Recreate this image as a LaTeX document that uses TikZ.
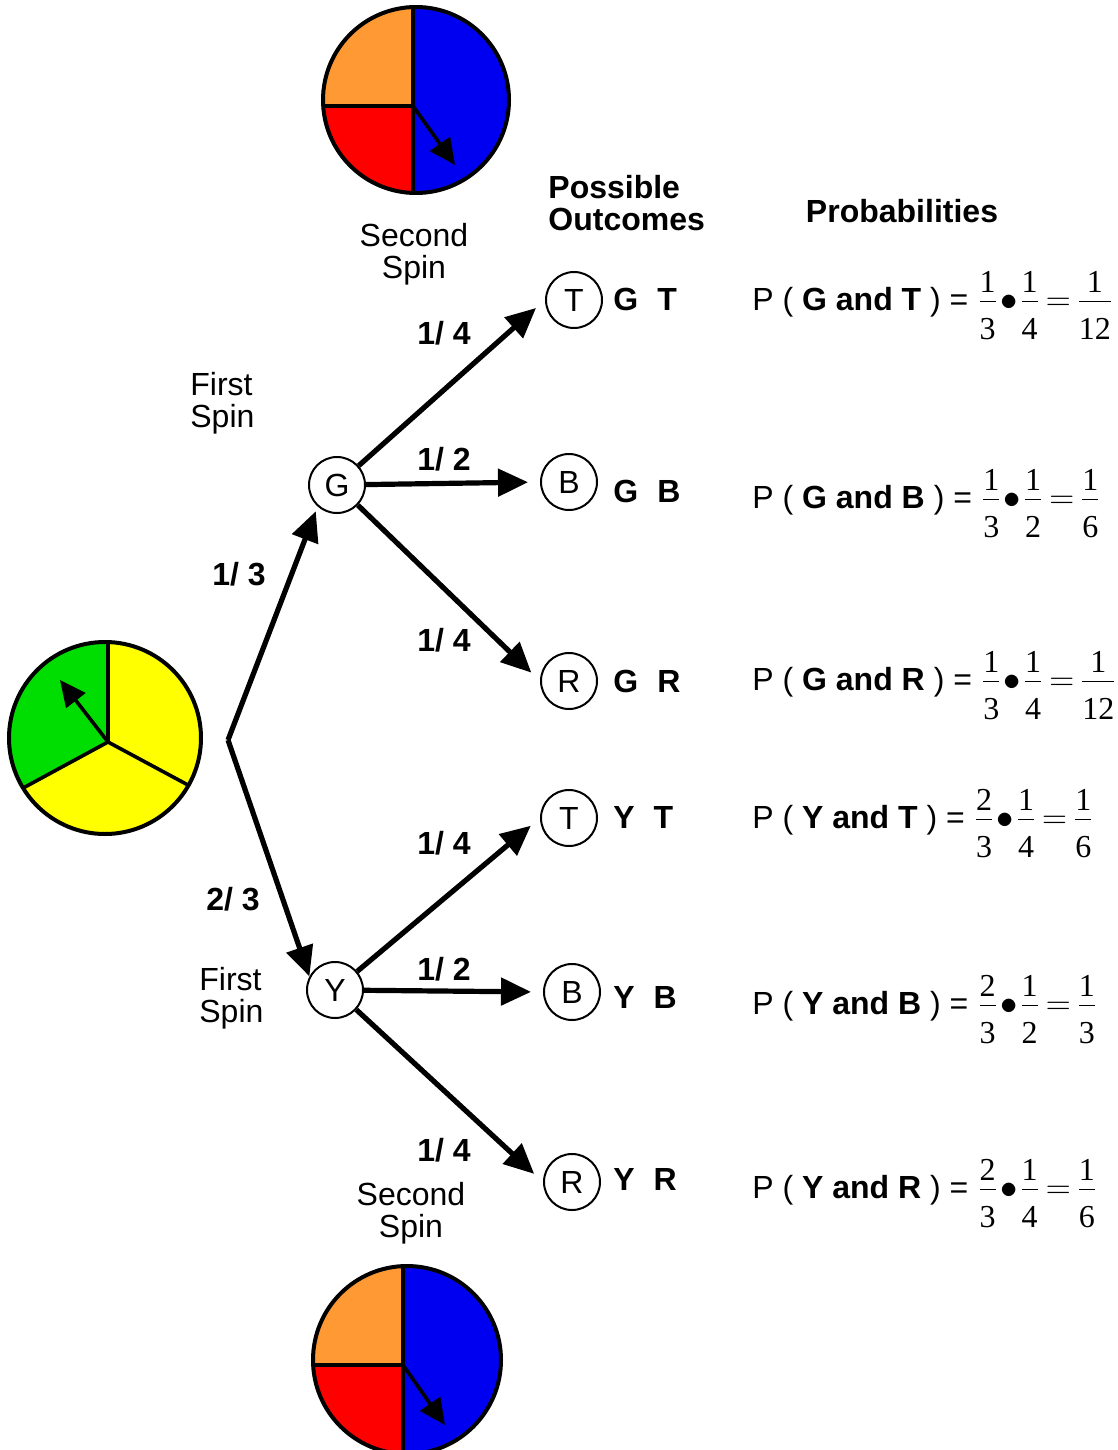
\documentclass[tikz,border=0pt]{standalone}
\usepackage{amsmath}
\usepackage{fontspec}
\setmainfont{Liberation Sans}
\newfontfamily\fracfont{Liberation Serif}
\usetikzlibrary{positioning,arrows.meta}
\definecolor{spinorange}{HTML}{FF9933}
\definecolor{spinblue}{HTML}{0000F0}
\definecolor{spinred}{HTML}{FF0000}
\definecolor{spingreen}{HTML}{00DD00}
\definecolor{spinyellow}{HTML}{FFFF00}
\newcommand\pfrac[2]{\genfrac{}{}{0.8pt}{0}{\raisebox{-3pt}{\fracfont #1}}{\raisebox{-3pt}{\fracfont #2}}}
\newcommand\peq{\mskip-2mu\mathrel{=}\mskip-2mu}
\newcommand\pdot{\mskip1mu{\bullet}\mskip1mu}

\begin{document}
\begin{tikzpicture}[x=0.5pt,y=-0.5pt,
  every node/.style={font=\fontsize{16}{16}\selectfont, inner sep=0pt},
  branch/.style={line width=2.6pt, -{Triangle[length=15pt,width=13.5pt]}, shorten >=6pt},
  pick/.style={draw, circle, line width=1pt, minimum size=28pt, inner sep=0pt},
  prob/.style={font=\fontsize{16}{16}\selectfont\bfseries},
  pointer/.style={line width=1.8pt, -{Triangle[length=13pt,width=12pt]}},
  rim/.style={line width=2pt},
  spoke/.style={line width=1.8pt}]
\useasboundingbox (0,0) rectangle (1118,1450);
\fill[spinblue] (416,100) circle[radius=93];
\begin{scope}
\clip (416,100) circle[radius=93];
\fill[spinorange] (300,0) rectangle (413,106);
\fill[spinred] (300,106) rectangle (413,200);
\draw[spoke] (413,0) -- (413,200) (300,106) -- (413,106);
\end{scope}
\draw[rim] (416,100) circle[radius=93];
\draw[pointer] (413,106) -- (455,165);
\fill[spinyellow] (105,738) circle[radius=96];
\begin{scope}
\clip (105,738) circle[radius=96];
\fill[spingreen] (108,742) -- (108,600) -- (-60,600) -- (-58,832) -- cycle;
\draw[spoke] (108,742) -- (108,600) (108,742) -- (-58,832) (108,742) -- (268,828);
\end{scope}
\draw[rim] (105,738) circle[radius=96];
\draw[pointer] (108,742) -- (60,680);
\fill[spinblue] (407,1360) circle[radius=94];
\begin{scope}
\clip (407,1360) circle[radius=94];
\fill[spinorange] (300,1250) rectangle (403,1365);
\fill[spinred] (300,1365) rectangle (403,1470);
\draw[spoke] (403,1250) -- (403,1470) (300,1365) -- (403,1365);
\end{scope}
\draw[rim] (407,1360) circle[radius=94];
\draw[pointer] (403,1365) -- (445,1425);
\node[align=center] (secondtop) at (414,254) {Second\\Spin};
\node[align=center] (secondbot) at (411,1213) {Second\\Spin};
\node[align=left, anchor=west] (firsttop) at (190,403) {First\\Spin};
\node[align=left, anchor=west] (firstbot) at (199,998) {First\\Spin};
\node[prob, align=left, anchor=west] (outcomes) at (548,203) {Possible\\Outcomes};
\node[prob] (probs) at (902,211) {Probabilities};
\coordinate (root) at (228,740);
\node[pick] (g) at (337,485) {G};
\node[pick] (y) at (335,990) {Y};
\node[pick] (gt) at (574,300) {T};
\node[pick] (gb) at (569,482) {B};
\node[pick] (gr) at (569,681) {R};
\node[pick] (yt) at (569,818) {T};
\node[pick] (yb) at (572,992) {B};
\node[pick] (yr) at (572,1182) {R};
\draw[branch, shorten >=2.5pt] (root) -- (g.228);
\draw[branch, shorten >=0pt] (root) -- (y.152);
\draw[branch] (g) -- (gt.west);
\draw[branch] (g) -- (gb.west);
\draw[branch] (g) -- (gr.west);
\draw[branch] (y) -- (yt.west);
\draw[branch] (y) -- (yb.west);
\draw[branch] (y) -- (yr.west);
\node[prob] (wg) at (239,574) {1/ 3};
\node[prob] (wy) at (233,899) {2/ 3};
\node[prob] (wgt) at (444,333) {1/ 4};
\node[prob] (wgb) at (444,459) {1/ 2};
\node[prob] (wgr) at (444,640) {1/ 4};
\node[prob] (wyt) at (444,843) {1/ 4};
\node[prob] (wyb) at (444,969) {1/ 2};
\node[prob] (wyr) at (444,1150) {1/ 4};
\node[prob, anchor=base west] (ogt) at (613,310) {G\hspace{9.5pt}T};
\node[prob, anchor=base west] (ogb) at (613,502) {G\hspace{9.5pt}B};
\node[prob, anchor=base west] (ogr) at (613,692) {G\hspace{9.5pt}R};
\node[prob, anchor=base west] (oyt) at (613,828) {Y\hspace{9.5pt}T};
\node[prob, anchor=base west] (oyb) at (613,1008) {Y\hspace{9.5pt}B};
\node[prob, anchor=base west] (oyr) at (613,1190) {Y\hspace{9.5pt}R};
\node[anchor=base west] (pgt) at (752,310) {P ( \textbf{G and T} ) = $\pfrac{1}{3}\pdot\pfrac{1}{4}\peq\pfrac{1}{12}$};
\node[anchor=base west] (pgb) at (752,508) {P ( \textbf{G and B} ) = $\pfrac{1}{3}\pdot\pfrac{1}{2}\peq\pfrac{1}{6}$};
\node[anchor=base west] (pgr) at (752,690) {P ( \textbf{G and R} ) = $\pfrac{1}{3}\pdot\pfrac{1}{4}\peq\pfrac{1}{12}$};
\node[anchor=base west] (pyt) at (752,828) {P ( \textbf{Y and T} ) = $\pfrac{2}{3}\pdot\pfrac{1}{4}\peq\pfrac{1}{6}$};
\node[anchor=base west] (pyb) at (752,1014) {P ( \textbf{Y and B} ) = $\pfrac{2}{3}\pdot\pfrac{1}{2}\peq\pfrac{1}{3}$};
\node[anchor=base west] (pyr) at (752,1198) {P ( \textbf{Y and R} ) = $\pfrac{2}{3}\pdot\pfrac{1}{4}\peq\pfrac{1}{6}$};
\end{tikzpicture}
\end{document}
